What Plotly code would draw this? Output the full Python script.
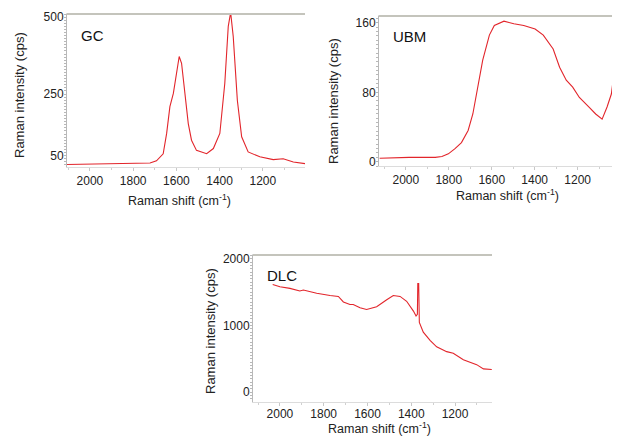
import plotly.graph_objects as go

# ---------------------------------------------------------------------------
# Data (Raman shift in cm-1, intensity in cps)
# ---------------------------------------------------------------------------
gc_shift = [2106, 1800, 1722, 1692, 1661, 1645, 1630, 1614, 1599, 1587, 1576,
            1561, 1545, 1530, 1507, 1460, 1429, 1399, 1376, 1360, 1349, 1337,
            1318, 1298, 1268, 1214, 1152, 1106, 1059, 1005]
gc_int = [21, 24, 26, 33, 56, 122, 209, 252, 317, 372, 350,
          252, 154, 100, 67, 56, 73, 122, 285, 470, 515, 437,
          230, 111, 62, 46, 37, 40, 29, 24]

ubm_shift = [2122, 1985, 1863, 1832, 1802, 1771, 1741, 1710, 1688, 1665, 1642,
             1611, 1588, 1543, 1497, 1451, 1398, 1360, 1314, 1284, 1253, 1223,
             1192, 1147, 1116, 1086, 1063, 1043, 1028]
ubm_int = [4, 5, 5, 6, 9, 15, 22, 36, 55, 86, 117,
           146, 157, 162, 159, 157, 153, 146, 130, 109, 94, 86,
           74, 63, 55, 49, 63, 78, 107]

dlc_shift = [2033, 2000, 1954, 1909, 1893, 1832, 1771, 1733, 1710, 1680, 1665,
             1634, 1604, 1558, 1512, 1482, 1451, 1421, 1390, 1378, 1372, 1370,
             1366, 1363, 1345, 1314, 1284, 1238, 1208, 1162, 1101, 1070, 1032]
dlc_int = [1617, 1583, 1558, 1519, 1534, 1485, 1451, 1437, 1354, 1315, 1315,
           1266, 1242, 1281, 1388, 1451, 1437, 1364, 1217, 1144, 1168, 1631,
           1631, 1047, 901, 779, 682, 609, 584, 487, 414, 351, 341]

x_ticks = [2000, 1800, 1600, 1400, 1200]

# page body keeps its default 8 px margin; keep the figure inside the window
OFF = 8
W, H = 621 - 2 * OFF, 446 - 2 * OFF


def px(x):
    return (x - OFF) / W


def py(y):
    return 1 - (y - OFF) / H


panels = [
    # name, x, y, axis id, left/right px, top/bottom px, x range, y range, y ticks
    ("GC", gc_shift, gc_int, "", (67, 305), (14, 167),
     [2106, 1005], [13, 510], [50, 250, 500]),
    ("UBM", ubm_shift, ubm_int, "2", (379, 612), (16, 166),
     [2125, 1040], [-5, 168], [0, 80, 160]),
    ("DLC", dlc_shift, dlc_int, "3", (253, 492), (255, 402),
     [2123, 1031], [-146, 2058], [0, 1000, 2000]),
]

FONT = "Liberation Sans, Arial, sans-serif"
RED = "#e2252b"

fig = go.Figure()
layout = {}

for name, xs, ys, ax, (xl, xr_), (yt_, yb), xr, yr, yt in panels:
    fig.add_trace(go.Scatter(
        x=xs, y=ys, mode="lines", name=name,
        line=dict(color=RED, width=1.1),
        xaxis="x" + ax, yaxis="y" + ax, showlegend=False,
    ))
    layout["xaxis" + ax] = dict(
        domain=[px(xl), min(px(xr_), 1)], range=xr, anchor="y" + ax,
        tickvals=x_ticks, ticks="outside", ticklen=3, tickcolor="#c8c8c8",
        minor=dict(dtick=100, ticks="outside", ticklen=2, tickcolor="#d0d0d0"),
        showline=True, linecolor="#dcdcdc", linewidth=1, mirror=True,
        showgrid=False, zeroline=False, automargin=False,
        ticklabelstandoff=-2 if name == "DLC" else 0,
        tickfont=dict(size=12, color="#222"),
    )
    layout["yaxis" + ax] = dict(
        domain=[py(yb), py(yt_)], range=yr, anchor="x" + ax,
        tickvals=yt, ticks="", showline=True, linecolor="#b8b8b8", linewidth=1,
        minor=dict(nticks=12, ticks="outside", ticklen=2, tickcolor="#b8b8b8"),
        showgrid=False, zeroline=False, automargin=False,
        tickfont=dict(size=12, color="#222"),
    )
    xref = "x" + ax + " domain"
    yref = "y" + ax + " domain"
    # thick grey frame line on top, as in the instrument export
    fig.add_shape(type="line", xref=xref, yref=yref, x0=0, x1=1, y0=1, y1=1,
                  line=dict(color="#c4c4bc", width=2))
    fig.add_annotation(text=name, xref=xref, yref=yref, x=0.05, y=0.93,
                       xanchor="left", yanchor="top", showarrow=False,
                       font=dict(size=15, color="#111"))

# axis titles, centres in page pixels (DLC x title sits on the page bottom)
titles = [
    (179, 200, 19, 95),    # GC
    (507, 195, 334, 101),  # UBM
    (379, None, 210, 331),  # DLC
]
for xc, xy, yx, yy in titles:
    if xy is None:
        ty, tanchor = 0, "bottom"
    else:
        ty, tanchor = py(xy), "middle"
    fig.add_annotation(text="Raman shift (cm<sup>-1</sup>)", xref="paper", yref="paper",
                       x=px(xc), y=ty, xanchor="center", yanchor=tanchor,
                       showarrow=False, font=dict(size=12.5, color="#222"))
    fig.add_annotation(text="Raman intensity (cps)", xref="paper", yref="paper",
                       x=px(yx), y=py(yy), xanchor="center", yanchor="middle",
                       textangle=-90, showarrow=False,
                       font=dict(size=13, color="#222"))

fig.update_layout(
    width=W, height=H,
    margin=dict(l=0, r=0, t=0, b=0),
    paper_bgcolor="white", plot_bgcolor="white",
    font=dict(family=FONT),
    **layout,
)

fig.write_html("out.html")
